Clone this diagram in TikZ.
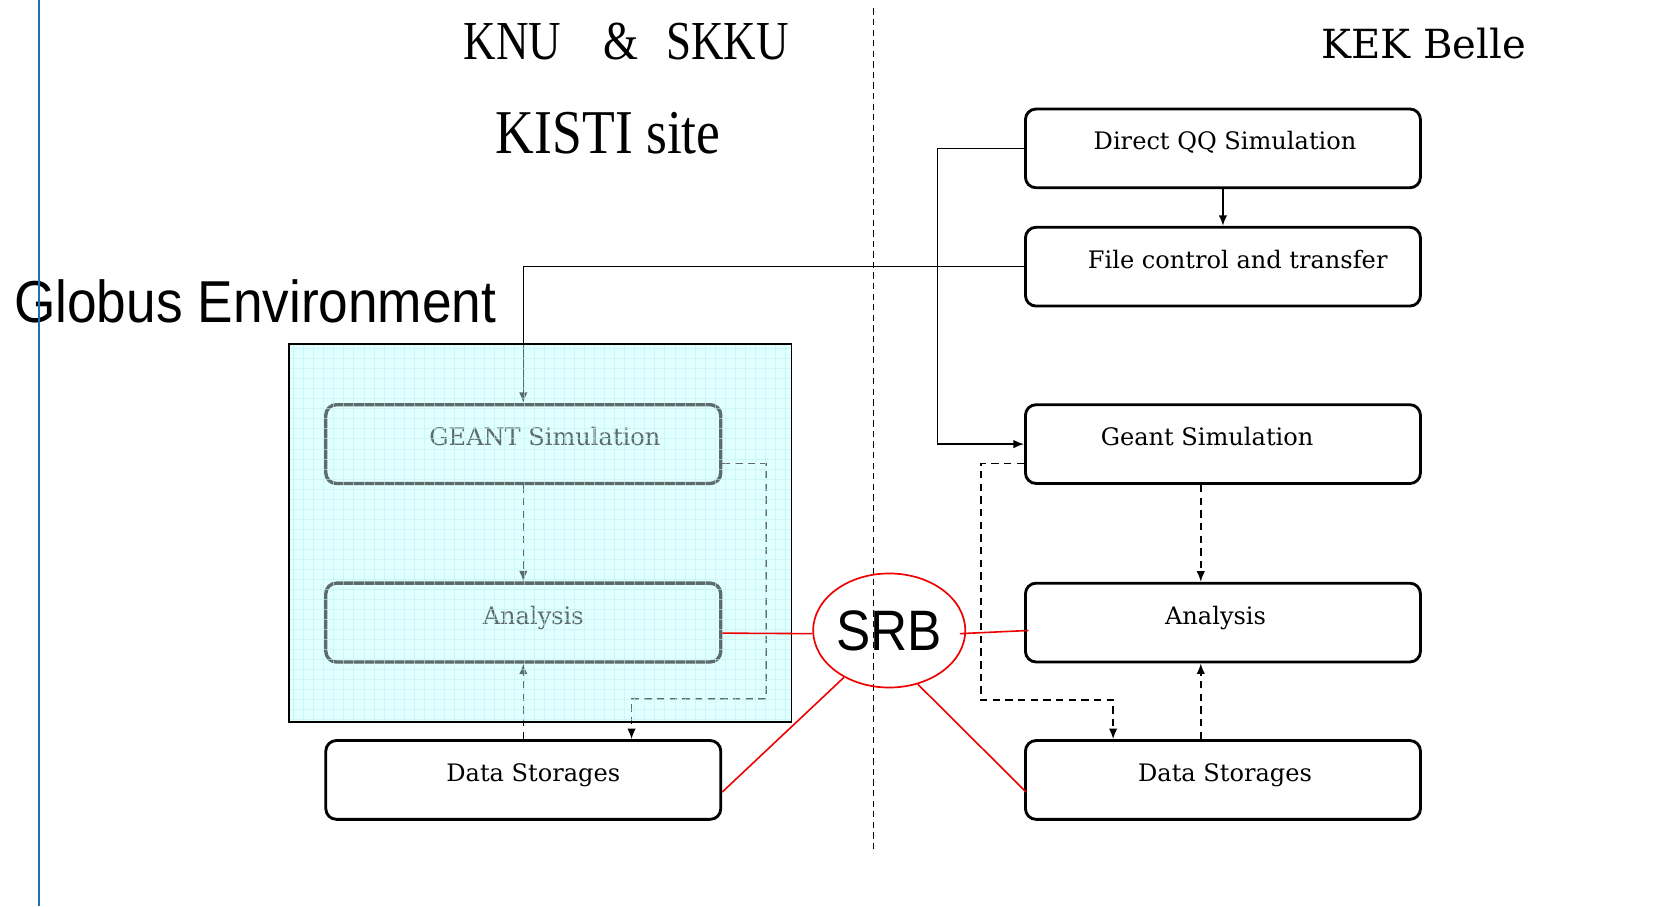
\documentclass[tikz,border=0pt]{standalone}
\usepackage{fontspec}
\setmainfont{DejaVu Serif}
\newfontfamily\hdrA[FakeStretch=0.82]{Liberation Serif}
\newfontfamily\hdrB[FakeStretch=0.86]{Liberation Serif}
\newfontfamily\sansc[FakeStretch=0.9]{Liberation Sans}
\usetikzlibrary{arrows.meta,shapes.geometric}
\definecolor{bluel}{RGB}{30,115,180}
\definecolor{cyanf}{RGB}{224,255,255}
\definecolor{gridc}{RGB}{195,240,244}
\definecolor{srbred}{RGB}{238,0,0}
\begin{document}
\begin{tikzpicture}[x=0.5pt,y=-0.5pt,
  box/.style={draw,rounded corners=5pt,line width=1.35pt,minimum width=187pt,minimum height=37.3pt,inner sep=0pt},
  lbl/.style={font=\fontsize{11.4}{13}\selectfont,inner sep=0pt,anchor=base},
  conn/.style={line width=0.75pt},
  arr/.style={-{Latex[length=5pt,width=4pt]}},
  dsh/.style={dash pattern=on 3.5pt off 2.5pt},
  redl/.style={srbred,line width=0.75pt}]
\useasboundingbox (0,0) rectangle (1569,858);

% headings
\node[font=\hdrA\fontsize{26}{28}\selectfont,inner sep=0,anchor=base] (knu) at (593,56) {KNU\hspace{20pt}\&\hspace{13pt}SKKU};
\node[font=\hdrB\fontsize{29.5}{31}\selectfont,inner sep=0,anchor=base] (kisti) at (576,145) {KISTI site};
\node[font=\fontsize{19}{21}\selectfont,inner sep=0,anchor=base] (kek) at (1348,55) {KEK Belle};
\node[font=\sansc\fontsize{28}{30}\selectfont,anchor=base west,inner sep=0] (globtxt) at (13,305) {Globus Environment};

% separators
\draw[bluel,line width=0.8pt] (37,0) -- (37,858);
\draw[line width=0.8pt,dash pattern=on 3pt off 2pt] (827,8) -- (827,808);

% Globus area base
\node[fill=cyanf,minimum width=237.5pt,minimum height=178.5pt,inner sep=0] (glob) at (511.5,504.5) {};

% right boxes
\node[box] (dqq) at (1158,140.5) {};
\node[box] (fc)  at (1158,252.5) {};
\node[box] (gs)  at (1158,420.5) {};
\node[box] (an)  at (1158,589.5) {};
\node[box] (ds)  at (1158,738.5) {};
\node[lbl] (tdqq) at (1160,142) {Direct QQ Simulation};
\node[lbl] (tfc)  at (1172,254) {File control and transfer};
\node[lbl] (tgs)  at (1143,422) {Geant Simulation};
\node[lbl] (tan)  at (1151,591) {Analysis};
\node[lbl] (tds)  at (1160,740) {Data Storages};

% left boxes
\node[box,line width=1.6pt] (lgs) at (495.5,420.5) {};
\node[box,line width=1.6pt] (lan) at (495.5,589.5) {};
\node[box] (lds) at (495.5,738.5) {};
\node[lbl] (tlgs) at (516,422) {GEANT Simulation};
\node[lbl] (tlan) at (505,591) {Analysis};
\node[lbl] (tlds) at (505,740) {Data Storages};

% connectors
\draw[conn,arr] (dqq.west) -- ++(-82,0) |- (gs.west);
\draw[conn,arr] (fc.west) -| (lgs.north);
\draw[conn,arr] (dqq.south) -- (fc.north);
\draw[conn,dsh,arr] ([xshift=-10.5pt]gs.south) -- ([xshift=-10.5pt]an.north);
\draw[conn,dsh,arr] ([xshift=-10.5pt]ds.north) -- ([xshift=-10.5pt]an.south);
\draw[conn,dsh,arr] ([yshift=-9.25pt]gs.west) -- ++(-41,0) |- ([xshift=-52pt,yshift=18.5pt]ds.north) -- ([xshift=-52pt]ds.north);
\draw[conn,dsh,arr] (lgs.south) -- (lan.north);
\draw[conn,dsh,arr] (lds.north) -- (lan.south);
\draw[conn,dsh,arr] ([yshift=-9.25pt]lgs.east) -- ++(41,0) |- ([xshift=51.25pt,yshift=19pt]lds.north) -- ([xshift=51.25pt]lds.north);

% translucent patterned overlay of the Globus area
\fill[cyanf,opacity=0.42] (glob.north west) rectangle (glob.south east);
\begin{scope}
\clip (glob.north west) rectangle (glob.south east);
\foreach \gx in {278,287.5,...,750} \draw[gridc,line width=0.3pt,opacity=0.6] (\gx,326) -- (\gx,683);
\foreach \gy in {330,339.5,...,684} \draw[gridc,line width=0.3pt,opacity=0.6] (274,\gy) -- (749,\gy);
\end{scope}
\draw[line width=0.85pt] (glob.north west) rectangle (glob.south east);

% SRB
\node[ellipse,draw=srbred,line width=0.8pt,minimum width=72pt,minimum height=54pt,inner sep=0,font=\sansc\fontsize{27}{29}\selectfont] (srb) at (842,597) {SRB};
\draw[redl] ([yshift=-5pt]lan.east) -- ([yshift=-1.5pt]srb.west);
\draw[redl] ([xshift=-3pt,yshift=-1.5pt]srb.east) -- ([xshift=2pt,yshift=-3.75pt]an.west);
\draw[redl] (srb.226) -- ([yshift=-5.75pt]lds.east);
\draw[redl] (srb.-62) -- ([xshift=1pt,yshift=-5.75pt]ds.west);
\end{tikzpicture}
\end{document}
